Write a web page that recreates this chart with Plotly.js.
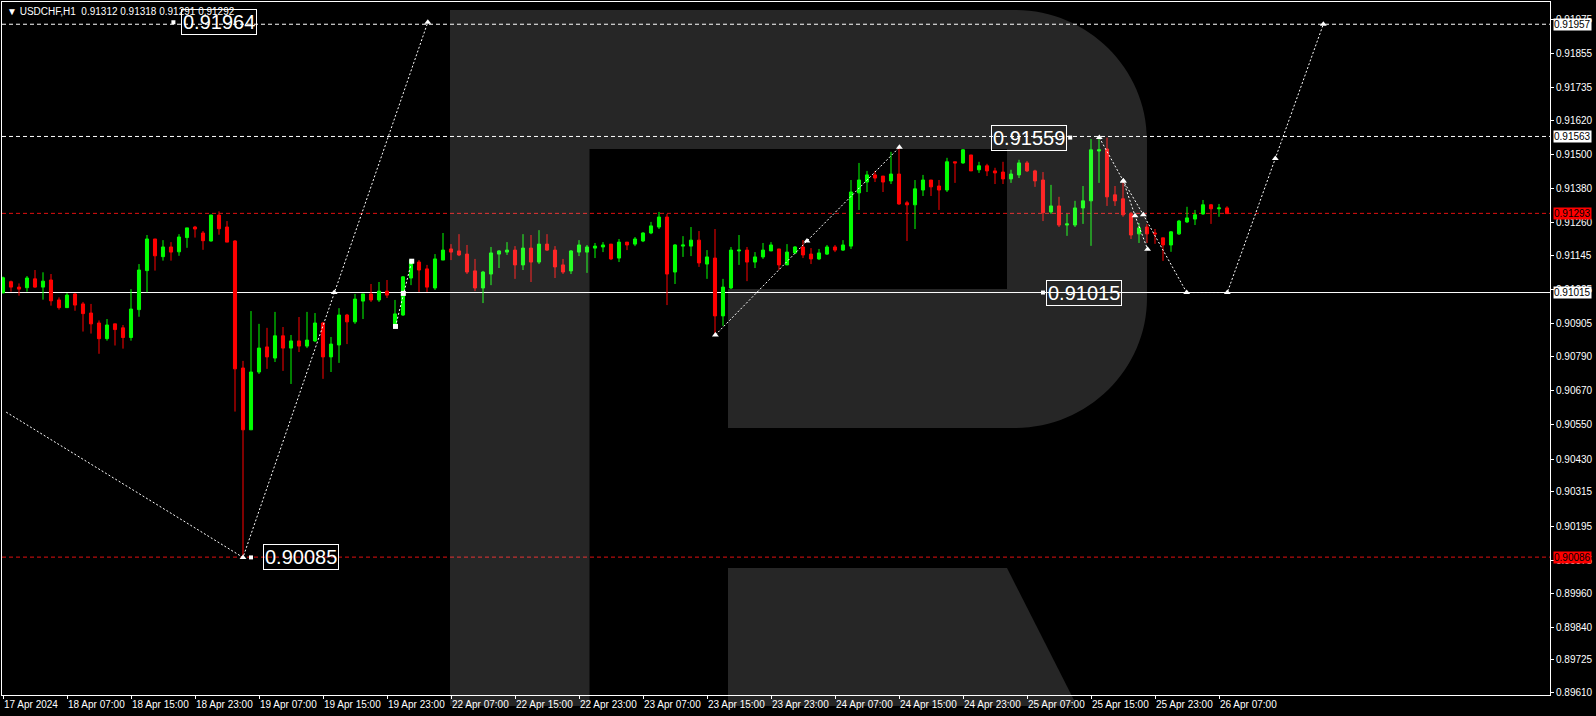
<!DOCTYPE html>
<html><head><meta charset="utf-8">
<script src="https://cdn.plot.ly/plotly-3.0.1.min.js"></script>
<style>html,body{margin:0;padding:0;background:#000;overflow:hidden}#chart{width:1596px;height:716px}</style>
</head><body><div id="chart"></div>
<script>
// ---- H1 candles, USDCHF (bar 0 = 17 Apr 2024 23:00) ----
const open  = [0.91014,0.91053,0.91034,0.91032,0.91063,0.91034,0.91059,0.90989,0.90962,0.91010,
0.90975,0.90943,0.90908,0.90853,0.90905,0.90891,0.90857,0.90955,0.91092,0.91203,
0.91141,0.91175,0.91158,0.91208,0.91245,0.91224,0.91196,0.91287,0.91245,0.91196,
0.90750,0.90533,0.90736,0.90824,0.90785,0.90863,0.90820,0.90845,0.90827,0.90845,
0.90908,0.90789,0.90831,0.90936,0.90912,0.90985,0.91010,0.90989,0.91020,0.90895,
0.90936,0.91066,0.91122,0.91098,0.91031,0.91129,0.91168,0.91161,0.91150,0.91091,
0.91031,0.91080,0.91150,0.91157,0.91164,0.91112,0.91171,0.91122,0.91185,0.91164,
0.91112,0.91091,0.91157,0.91157,0.91171,0.91175,0.91185,0.91136,0.91192,0.91185,
0.91196,0.91224,0.91245,0.91280,0.91087,0.91178,0.91178,0.91199,0.91115,0.91136,
0.90933,0.91031,0.91161,0.91164,0.91122,0.91140,0.91161,0.91168,0.91112,0.91154,
0.91175,0.91150,0.91133,0.91150,0.91175,0.91164,0.91178,0.91365,0.91403,0.91428,
0.91424,0.91407,0.91431,0.91330,0.91323,0.91375,0.91410,0.91389,0.91375,0.91474,
0.91470,0.91498,0.91446,0.91460,0.91442,0.91438,0.91414,0.91428,0.91470,0.91442,
0.91410,0.91298,0.91319,0.91252,0.91252,0.91312,0.91337,0.91512,0.91519,0.91358,
0.91344,0.91291,0.91221,0.91245,0.91224,0.91207,0.91182,0.91221,0.91263,0.91273,
0.91291,0.91323,0.91309,0.91312];
const high  = [0.91071,0.91057,0.91047,0.91073,0.91094,0.91086,0.91080,0.90998,0.91013,0.91013,
0.90982,0.90975,0.90917,0.90922,0.90905,0.90901,0.91027,0.91115,0.91217,0.91203,
0.91199,0.91192,0.91220,0.91242,0.91249,0.91231,0.91288,0.91300,0.91266,0.91199,
0.90775,0.90950,0.90905,0.90891,0.90947,0.90894,0.90866,0.90929,0.90947,0.90943,
0.90912,0.90859,0.90960,0.90940,0.91010,0.91010,0.91045,0.91052,0.91059,0.90989,
0.91073,0.91133,0.91129,0.91112,0.91150,0.91224,0.91185,0.91220,0.91182,0.91133,
0.91091,0.91175,0.91164,0.91192,0.91178,0.91220,0.91217,0.91234,0.91220,0.91178,
0.91133,0.91164,0.91199,0.91182,0.91189,0.91192,0.91185,0.91203,0.91192,0.91210,
0.91227,0.91263,0.91298,0.91291,0.91185,0.91213,0.91245,0.91231,0.91164,0.91238,
0.91063,0.91175,0.91217,0.91175,0.91157,0.91189,0.91192,0.91168,0.91185,0.91178,
0.91199,0.91171,0.91168,0.91182,0.91182,0.91199,0.91410,0.91470,0.91442,0.91442,
0.91424,0.91509,0.91525,0.91337,0.91410,0.91428,0.91410,0.91410,0.91488,0.91474,
0.91519,0.91498,0.91474,0.91467,0.91453,0.91474,0.91446,0.91481,0.91477,0.91446,
0.91438,0.91393,0.91351,0.91291,0.91337,0.91389,0.91554,0.91559,0.91559,0.91389,
0.91407,0.91298,0.91259,0.91256,0.91238,0.91207,0.91231,0.91270,0.91316,0.91305,
0.91340,0.91326,0.91326,0.91318];
const low   = [0.91012,0.91018,0.91004,0.91018,0.91032,0.90990,0.90969,0.90955,0.90961,0.90951,
0.90878,0.90871,0.90800,0.90846,0.90829,0.90818,0.90846,0.90930,0.91016,0.91092,
0.91127,0.91127,0.91144,0.91172,0.91208,0.91165,0.91194,0.91218,0.91192,0.90597,
0.90085,0.90533,0.90729,0.90747,0.90771,0.90740,0.90694,0.90806,0.90820,0.90841,
0.90712,0.90736,0.90768,0.90834,0.90905,0.90922,0.90982,0.90982,0.90996,0.90888,
0.90933,0.91041,0.91017,0.91017,0.91024,0.91129,0.91129,0.91143,0.91080,0.91020,
0.90978,0.91041,0.91101,0.91147,0.91063,0.91094,0.91052,0.91115,0.91161,0.91066,
0.91080,0.91080,0.91143,0.91084,0.91136,0.91157,0.91129,0.91122,0.91164,0.91178,
0.91192,0.91220,0.91238,0.90971,0.91045,0.91140,0.91143,0.91105,0.91063,0.90866,
0.90898,0.91027,0.91112,0.91055,0.91101,0.91133,0.91161,0.91094,0.91112,0.91150,
0.91136,0.91115,0.91129,0.91147,0.91157,0.91161,0.91168,0.91305,0.91368,0.91403,
0.91368,0.91396,0.91323,0.91196,0.91238,0.91354,0.91354,0.91305,0.91368,0.91400,
0.91467,0.91442,0.91435,0.91424,0.91396,0.91396,0.91400,0.91417,0.91438,0.91386,
0.91266,0.91291,0.91245,0.91214,0.91245,0.91256,0.91179,0.91400,0.91319,0.91319,
0.91281,0.91203,0.91189,0.91189,0.91186,0.91126,0.91158,0.91217,0.91259,0.91252,
0.91288,0.91256,0.91281,0.91291];
const close = [0.91067,0.91034,0.91027,0.91066,0.91034,0.91055,0.90986,0.90962,0.91006,0.90971,
0.90941,0.90905,0.90853,0.90901,0.90885,0.90857,0.90957,0.91094,0.91203,0.91144,
0.91175,0.91157,0.91210,0.91242,0.91238,0.91197,0.91287,0.91239,0.91192,0.90747,
0.90533,0.90736,0.90820,0.90789,0.90863,0.90820,0.90845,0.90827,0.90848,0.90908,
0.90789,0.90834,0.90936,0.90912,0.90992,0.91010,0.90989,0.91020,0.91006,0.90940,
0.91070,0.91129,0.91094,0.91034,0.91133,0.91164,0.91157,0.91147,0.91087,0.91031,
0.91087,0.91154,0.91161,0.91164,0.91112,0.91171,0.91122,0.91185,0.91164,0.91105,
0.91087,0.91161,0.91182,0.91175,0.91178,0.91182,0.91133,0.91192,0.91182,0.91203,
0.91224,0.91249,0.91280,0.91080,0.91182,0.91182,0.91199,0.91119,0.91140,0.90933,
0.91034,0.91164,0.91164,0.91122,0.91140,0.91164,0.91182,0.91112,0.91157,0.91175,
0.91147,0.91133,0.91154,0.91175,0.91164,0.91182,0.91368,0.91410,0.91428,0.91417,
0.91403,0.91431,0.91326,0.91323,0.91379,0.91410,0.91386,0.91375,0.91474,0.91470,
0.91516,0.91442,0.91460,0.91442,0.91435,0.91414,0.91431,0.91470,0.91442,0.91407,
0.91295,0.91319,0.91252,0.91256,0.91312,0.91337,0.91516,0.91516,0.91351,0.91337,
0.91288,0.91217,0.91242,0.91221,0.91221,0.91182,0.91228,0.91266,0.91277,0.91288,
0.91323,0.91309,0.91312,0.91292];

// ---- time axis (bar index of each labelled hour) ----
const timeTickBars   = [0,8,16,24,32,40,48,56,64,72,80,88,96,104,112,120,128,136,144,152];
const timeTickLabels = ['17 Apr 2024','18 Apr 07:00','18 Apr 15:00','18 Apr 23:00','19 Apr 07:00','19 Apr 15:00',
  '19 Apr 23:00','22 Apr 07:00','22 Apr 15:00','22 Apr 23:00','23 Apr 07:00','23 Apr 15:00','23 Apr 23:00',
  '24 Apr 07:00','24 Apr 15:00','24 Apr 23:00','25 Apr 07:00','25 Apr 15:00','25 Apr 23:00','26 Apr 07:00'];

// ---- price axis ----
const priceTicks = [0.89610,0.89725,0.89840,0.89960,0.90075,0.90195,0.90315,0.90430,0.90550,0.90670,
  0.90790,0.90905,0.91025,0.91145,0.91260,0.91380,0.91500,0.91620,0.91735,0.91855,0.91975];

// ---- horizontal levels ----
const whiteDashLevels = [0.91957, 0.91563];
const redDashLevels   = [0.91293, 0.90086];
const solidLevel      = 0.91015;

// ---- forecast paths (bar, price) ----
const fc1Bars = [0.4, 30, 53.1];          const fc1Prices = [0.90595, 0.90085, 0.91964];
const fc1MarkBars = [30, 41.4, 53.1];     const fc1MarkPrices = [0.90085, 0.91015, 0.91964];
const fc2Bars = [89.05, 100.5, 112.05];   const fc2Prices = [0.90866, 0.91196, 0.91525];
const fc3Bars = [137.04, 140.04, 142.54, 147.96, 153.04, 159.04, 165.04];
const fc3Prices = [0.91559, 0.91407, 0.91288, 0.91015, 0.91015, 0.91486, 0.91957];
const fc3bBars = [140.04, 141.5, 143.07]; const fc3bPrices = [0.91407, 0.91285, 0.91167];
const sqBars = [49.06, 50.04, 51.09];     const sqPrices = [0.90896, 0.91012, 0.91125];

// ---- text labels on chart ----
const chartLabelText  = ['0.91964','0.91559','0.91015','0.90085'];
const chartLabelBars  = [22.25, 123.5, 130.4, 32.45];
const chartLabelPrice = [0.91964, 0.91559, 0.91015, 0.90085];
const chartLabelPtrBar = [21.3, 133.4, 130.0, 31.0];

// ---- right axis markers ----
const axisMarkText  = ['0.91957','0.91563','0.91293','0.91015','0.90086'];
const axisMarkPrice = [0.91957, 0.91563, 0.91293, 0.91015, 0.90086];
const axisMarkBg    = ['#ffffff','#ffffff','#ff0000','#ffffff','#ff0000'];

const header = '\u25BC USDCHF,H1  0.91312 0.91318 0.91291 0.91292';

// ---------------- layout geometry ----------------
const W = 1596, H = 716, ML = 2, MR = 46, MT = 2, MB = 21;
const PW = W - ML - MR, PH = H - MT - MB;
const px2paperX = px => (px - ML) / PW;
const px2paperY = py => (H - MB - py) / PH;
const FONT = 'Liberation Sans, Arial, sans-serif';

const bars = open.map((_, i) => i);

const traces = [];
traces.push({
  type: 'candlestick', x: bars, open: open, high: high, low: low, close: close,
  increasing: {line: {color: '#00ff00', width: 1}, fillcolor: '#00ff00'},
  decreasing: {line: {color: '#ff0000', width: 1}, fillcolor: '#ff0000'},
  whiskerwidth: 0, hoverinfo: 'skip', showlegend: false
});
const dotLine = {color: '#ffffff', width: 1, dash: '2px,2px'};
const arrowMark = {symbol: 'triangle-up', size: 6, color: '#ffffff'};
traces.push({type:'scatter', mode:'lines', x: fc1Bars, y: fc1Prices, line: dotLine, hoverinfo:'skip', showlegend:false});
traces.push({type:'scatter', mode:'markers', x: fc1MarkBars, y: fc1MarkPrices, marker: arrowMark, hoverinfo:'skip', showlegend:false});
traces.push({type:'scatter', mode:'lines+markers', x: fc2Bars, y: fc2Prices, line: dotLine, marker: arrowMark, hoverinfo:'skip', showlegend:false});
traces.push({type:'scatter', mode:'lines+markers', x: fc3Bars, y: fc3Prices, line: dotLine, marker: arrowMark, hoverinfo:'skip', showlegend:false});
traces.push({type:'scatter', mode:'lines+markers', x: fc3bBars, y: fc3bPrices, line: dotLine, marker: arrowMark, hoverinfo:'skip', showlegend:false});
traces.push({type:'scatter', mode:'lines+markers', x: sqBars, y: sqPrices, line: dotLine,
  marker: {symbol:'square', size: 5, color:'#ffffff'}, hoverinfo:'skip', showlegend:false});
// label pointers
traces.push({type:'scatter', mode:'markers', x: chartLabelPtrBar, y: chartLabelPrice,
  marker: {symbol:'square', size: 4, color:'#ffffff'}, hoverinfo:'skip', showlegend:false});

const shapes = [];
whiteDashLevels.forEach(p => shapes.push({type:'line', xref:'paper', x0:0, x1:1, yref:'y', y0:p, y1:p,
  line:{color:'#ffffff', width:1, dash:'4px,3px'}, layer:'below'}));
redDashLevels.forEach(p => shapes.push({type:'line', xref:'paper', x0:0, x1:1, yref:'y', y0:p, y1:p,
  line:{color:'#e01010', width:1, dash:'4px,3px'}, layer:'below'}));
shapes.push({type:'line', xref:'paper', x0:0, x1:1, yref:'y', y0:solidLevel, y1:solidLevel,
  line:{color:'#ffffff', width:1}, layer:'below'});

// watermark "R" (decoration, pixel geometry)
function pathFrom(pts) {
  return pts.map(s => {
    const cmd = s[0]; const nums = s.slice(1);
    const out = [];
    for (let k = 0; k < nums.length; k += 2) out.push(px2paperX(nums[k]).toFixed(5) + ',' + px2paperY(nums[k+1]).toFixed(5));
    return cmd + ' ' + out.join(' ');
  }).join(' ') + ' Z';
}
const logoA = pathFrom([
  ['M',450,10],['L',1015,10],['C',1087,10,1147,68,1147,140],['L',1147,298],
  ['C',1147,370,1087,428,1015,428],['L',728,428],['L',728,289],['L',1007,289],['L',1007,149],
  ['L',589.5,149],['L',589.5,706],['L',450,706]
]);
const logoB = pathFrom([['M',728,568],['L',1007,568],['L',1077,706],['L',728,706]]);
[logoA, logoB].forEach(p => shapes.push({type:'path', xref:'paper', yref:'paper', path:p,
  fillcolor:'rgba(255,255,255,0.15)', line:{width:0}, layer:'above'}));

const annotations = [];
chartLabelText.forEach((t, i) => annotations.push({
  text: t, x: chartLabelBars[i], y: chartLabelPrice[i], xref:'x', yref:'y', xanchor:'left', yanchor:'middle',
  showarrow:false, font:{family: FONT, size: 20, color:'#ffffff'}, bordercolor:'#ffffff', borderwidth:1, borderpad:1
}));
axisMarkText.forEach((t, i) => annotations.push({
  text: t, x: 1, xref:'paper', xanchor:'left', xshift: 3, y: axisMarkPrice[i], yref:'y', yanchor:'middle',
  showarrow:false, font:{family: FONT, size: 10, color:'#000000'}, bgcolor: axisMarkBg[i], borderpad: 0
}));
annotations.push({text: header, xref:'paper', yref:'paper', x: px2paperX(5), y: px2paperY(11),
  xanchor:'left', yanchor:'middle', showarrow:false, font:{family: FONT, size: 10, color:'#ffffff'}});

const layout = {
  width: W, height: H, margin: {l: ML, r: MR, t: MT, b: MB, pad: 0},
  paper_bgcolor: '#000000', plot_bgcolor: '#000000', showlegend: false,
  boxgap: 0.45,
  xaxis: {range: [-0.125, 193.375], rangeslider: {visible: false}, tickmode:'array',
    tickvals: timeTickBars, ticktext: timeTickLabels, ticks:'outside', ticklen: 3, tickcolor:'#ffffff',
    tickangle: 0, ticklabelposition:'outside right', tickfont:{family: FONT, size: 10, color:'#ffffff'},
    showgrid:false, zeroline:false, showline:true, mirror:true, linecolor:'#ffffff', linewidth:1, fixedrange:true},
  yaxis: {range: [0.896019, 0.920351], side:'right', tickmode:'array', tickvals: priceTicks,
    ticktext: priceTicks.map(v => v.toFixed(5)), ticks:'outside', ticklen: 3, tickcolor:'#ffffff',
    tickfont:{family: FONT, size: 10, color:'#ffffff'},
    showgrid:false, zeroline:false, showline:true, mirror:true, linecolor:'#ffffff', linewidth:1, fixedrange:true},
  shapes: shapes, annotations: annotations
};
Plotly.newPlot('chart', traces, layout, {staticPlot: true, displayModeBar: false});
</script></body></html>
